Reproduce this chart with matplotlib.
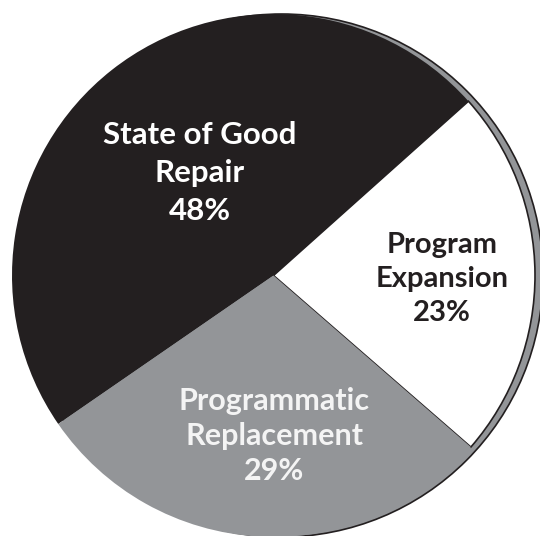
import matplotlib
matplotlib.use("Agg")
import matplotlib.pyplot as plt
from matplotlib.patches import Circle

# Capital program allocation by category
categories = ["Program\nExpansion", "State of Good\nRepair", "Programmatic\nReplacement"]
shares = [23, 48, 29]
colors = ["#ffffff", "#231f20", "#939598"]
text_colors = ["#231f20", "#ffffff", "#f4f4f4"]

W, H = 540, 536
fig = plt.figure(figsize=(W / 100, H / 100), dpi=100)
ax = fig.add_axes([0, 0, 1, 1])

cx, cy, r = 273.5, H - 275.5, 261.5

# gray rim offset to the right, giving the disc a raised edge
rim = Circle((cx + 8, cy), r, facecolor="#939598", edgecolor="#231f20",
             linewidth=1.2, zorder=1)
ax.add_patch(rim)

wedges, _ = ax.pie(shares, colors=colors, startangle=-41, counterclock=True,
                   center=(cx, cy), radius=r, frame=True,
                   wedgeprops=dict(linewidth=0))
for w in wedges:
    w.set_zorder(2)
wedges[0].set_edgecolor("#231f20")
wedges[0].set_linewidth(1.2)

ax.set_xlim(0, W)
ax.set_ylim(0, H)
ax.set_aspect("equal")
ax.axis("off")

label_pos = [(442, 279), (200, 173), (274, 436)]
label_sizes = [21, 22.5, 22]
label_spacing = [1.4, 1.45, 1.3]
for cat, val, (x, y), tc, fs, ls in zip(categories, shares, label_pos,
                                        text_colors, label_sizes, label_spacing):
    ax.text(x, H - y, f"{cat}\n{val}%", ha="center", va="center",
            color=tc, fontsize=fs, fontweight="bold", family="Lato",
            linespacing=ls, zorder=3)

fig.savefig("out.png", dpi=100)
